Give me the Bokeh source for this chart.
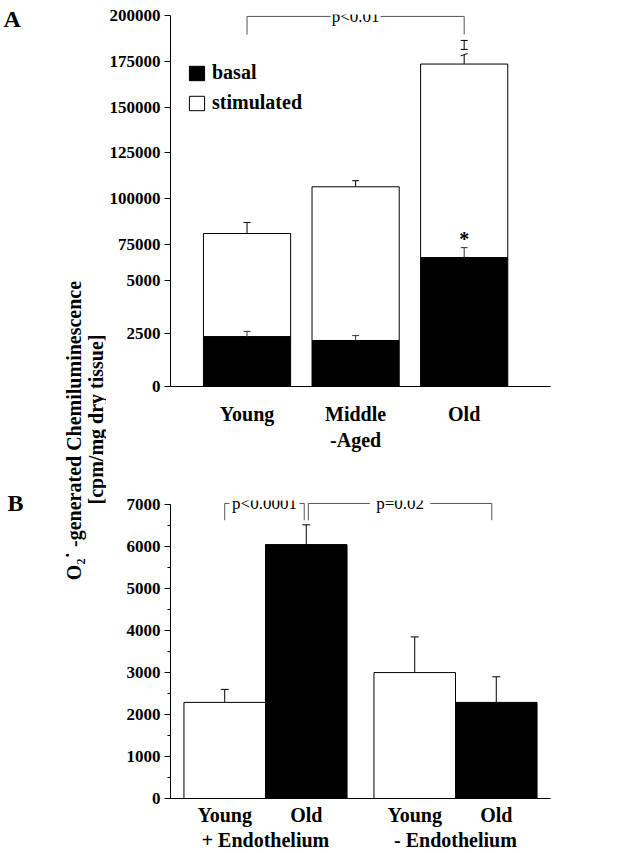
import math
from bokeh.plotting import figure
from bokeh.models import (Range1d, FixedTicker, SingleIntervalTicker, LinearAxis,
                          CustomJSTickFormatter, Whisker, TeeHead, ColumnDataSource,
                          Legend, LegendItem, Label)
from bokeh.layouts import row, column
from bokeh.embed import file_html
from bokeh.resources import INLINE

# ---------------- data: panel A (broken axis, stacked) ----------------
age_groups = ["Young", "Middle\n-Aged", "Old"]
basal = [2350, 2170, 6080]
basal_err = [2600, 2400, 6550]
total = [81000, 106500, 173500]
total_err = [87000, 109800, 186400]
a_ticks = [0, 2500, 5000, 75000, 100000, 125000, 150000, 175000, 200000]
a_tick_labels = ["0", "2500", "5000", "75000", "100000", "125000", "150000", "175000", "200000"]

# ---------------- data: panel B ----------------
endo_groups = ["+ Endothelium", "+ Endothelium", "- Endothelium", "- Endothelium"]
b_ages = ["Young", "Old", "Young", "Old"]
b_values = [2290, 6050, 3000, 2290]
b_err = [2600, 6520, 3850, 2900]

SERIF = "Liberation Serif"

# broken axis: lower segment (0-5000) and upper segment (75000-200000)
LOW_SCALE = 53.0 / 2500
BREAK_VALUE = 75000
BREAK_POS = 142.0
HIGH_SCALE = 45.8 / 25000


def ax(v):
    if v < 20000:
        return v * LOW_SCALE
    return BREAK_POS + (v - BREAK_VALUE) * HIGH_SCALE


def style_common(p):
    p.grid.visible = False
    p.outline_line_color = None
    p.background_fill_color = "white"
    p.border_fill_color = "white"


def style_axis(axis, size):
    axis.axis_line_color = "black"
    axis.axis_line_width = 1
    axis.major_label_text_font = SERIF
    axis.major_label_text_font_style = "bold"
    axis.major_label_text_color = "black"
    axis.major_label_text_font_size = size


def bracket(p, xa, xb, y_top, y_drop, text, gap_half):
    """Significance bracket with a gap for the centred text."""
    xm = (xa + xb) / 2
    p.segment(x0=[xa, xa, xb, xm + gap_half], y0=[y_top, y_top, y_top, y_top],
              x1=[xm - gap_half, xa, xb, xb], y1=[y_top, y_drop, y_drop, y_top],
              line_color="#555555", line_width=1)
    p.add_layout(Label(x=xm, y=y_top, text=text, text_align="center", text_baseline="middle",
                       text_font=SERIF, text_font_size="17px", text_color="black"))


# ---------------- panel A ----------------
pa = figure(width=528, height=455, x_range=Range1d(-0.705, 2.795), y_range=Range1d(0, 372),
            output_backend="svg", toolbar_location=None,
            min_border_left=60, min_border_right=6, min_border_top=14, min_border_bottom=69)
style_common(pa)

xs = list(range(len(age_groups)))
BW = 0.803
src_a = ColumnDataSource(dict(
    x=xs,
    b=[ax(v) for v in basal],
    be=[ax(v) for v in basal_err],
    t=[ax(v) for v in total],
    te=[ax(v) for v in total_err],
    cl=[x - 0.032 for x in xs],
    cr=[x + 0.032 for x in xs],
))
r_stim = pa.vbar(x="x", bottom="b", top="t", width=BW, fill_color="white",
                 line_color="black", line_width=1, source=src_a)
r_basal = pa.vbar(x="x", bottom=0, top="b", width=BW, fill_color="black",
                  line_color="black", line_width=1, source=src_a)
# error bars (up only)
pa.segment(x0="x", y0="t", x1="x", y1="te", line_color="black", line_width=1, source=src_a)
pa.segment(x0="cl", y0="te", x1="cr", y1="te", line_color="black", line_width=1, source=src_a)
pa.segment(x0="x", y0="b", x1="x", y1="be", line_color="#333333", line_width=1, source=src_a)
pa.segment(x0="cl", y0="be", x1="cr", y1="be", line_color="#333333", line_width=1, source=src_a)

# break mark on the Old error bar
io = len(xs) - 1
te_old = ax(total_err[io])
pa.quad(left=[io - 0.04], right=[io + 0.04], bottom=[te_old - 14.5], top=[te_old - 9.5],
        fill_color="white", line_color=None, level="overlay")
pa.segment(x0=[io - 0.032], y0=[te_old - 9], x1=[io + 0.032], y1=[te_old - 9],
           line_color="black", line_width=1, level="overlay")
pa.segment(x0=[io - 0.032], y0=[te_old - 15.5], x1=[io + 0.032], y1=[te_old - 13],
           line_color="black", line_width=1, level="overlay")

# significance bracket (Young vs Old)
bracket(pa, 0, 2, ax(199500), ax(189600), "p<0.01", 0.23)
pa.add_layout(Label(x=io, y=ax(basal_err[io]) + 9, text="*", text_align="center",
                    text_baseline="middle", text_font=SERIF, text_font_size="20px",
                    text_font_style="bold", text_color="black"))

NEAREST = """
let best = 0;
for (let i = 0; i < pos.length; i++) {
  if (Math.abs(pos[i] - tick) < Math.abs(pos[best] - tick)) best = i;
}
return lab[best];
"""

pa.yaxis.ticker = FixedTicker(ticks=[ax(v) for v in a_ticks])
pa.yaxis.formatter = CustomJSTickFormatter(
    args=dict(pos=[ax(v) for v in a_ticks], lab=a_tick_labels), code=NEAREST)
pa.yaxis.bounds = (0, ax(200000))
pa.yaxis.minor_tick_line_color = None
pa.yaxis.major_tick_line_color = "black"
pa.yaxis.major_tick_out = 6
pa.yaxis.major_tick_in = 0
pa.yaxis.major_label_standoff = 4
style_axis(pa.yaxis, "17px")

pa.xaxis.ticker = FixedTicker(ticks=xs)
pa.xaxis.formatter = CustomJSTickFormatter(args=dict(lab=age_groups),
                                           code="return lab[Math.round(tick)];")
pa.xaxis.major_tick_line_color = None
pa.xaxis.minor_tick_line_color = None
pa.xaxis.major_tick_out = 0
pa.xaxis.major_label_standoff = 16
style_axis(pa.xaxis, "20px")

legend = Legend(items=[LegendItem(label="basal", renderers=[r_basal]),
                       LegendItem(label="stimulated", renderers=[r_stim])],
                location=(17, 272), orientation="vertical")
legend.background_fill_alpha = 0
legend.border_line_color = None
legend.label_text_font = SERIF
legend.label_text_font_size = "20px"
legend.label_text_font_style = "bold"
legend.label_text_color = "black"
legend.glyph_width = 19
legend.glyph_height = 18
legend.spacing = 7
legend.padding = 0
legend.margin = 0
legend.label_standoff = 6
pa.add_layout(legend)

# ---------------- panel B ----------------
GP = 0.33
group_order = sorted(set(endo_groups), key=endo_groups.index)
bx = [i + group_order.index(g) * GP for i, g in enumerate(endo_groups)]
group_centers = [sum(x for x, g in zip(bx, endo_groups) if g == grp) /
                 endo_groups.count(grp) for grp in group_order]

pb = figure(width=528, height=398, x_range=Range1d(bx[0] - 0.665, bx[-1] + 0.665),
            y_range=Range1d(0, 7100),
            output_backend="svg", toolbar_location=None,
            min_border_left=62, min_border_right=84, min_border_top=45, min_border_bottom=53)
style_common(pb)

b_colors = ["white" if a == "Young" else "black" for a in b_ages]
src_b = ColumnDataSource(dict(x=bx, top=b_values, err=b_err, color=b_colors))
pb.vbar(x="x", top="top", width=1.0, fill_color="color", line_color="black",
        line_width=1, source=src_b)
pb.add_layout(Whisker(source=src_b, base="x", lower="top", upper="err", dimension="height",
                      line_color="black", line_width=1,
                      upper_head=TeeHead(size=8, line_color="black", line_width=1),
                      lower_head=None))

# significance brackets
bracket(pb, bx[0], bx[1] - 0.025, 7030, 6630, "p<0.0001", 0.43)
bracket(pb, bx[1] + 0.025, bx[3] - 0.055, 7030, 6630, "p=0.02", 0.37)

pb.yaxis.ticker = SingleIntervalTicker(interval=1000, num_minor_ticks=2)
pb.yaxis.bounds = (0, 7000)
pb.yaxis.major_tick_out = 6
pb.yaxis.major_tick_in = 0
pb.yaxis.minor_tick_out = 3
pb.yaxis.minor_tick_in = 0
pb.yaxis.major_label_standoff = 4
pb.yaxis.major_tick_line_color = "black"
pb.yaxis.minor_tick_line_color = "black"
style_axis(pb.yaxis, "17px")

pb.xaxis.ticker = FixedTicker(ticks=bx)
pb.xaxis.formatter = CustomJSTickFormatter(args=dict(pos=bx, lab=b_ages), code=NEAREST)
pb.xaxis.major_tick_line_color = None
pb.xaxis.minor_tick_line_color = None
pb.xaxis.major_tick_out = 0
pb.xaxis.major_label_standoff = 5
style_axis(pb.xaxis, "20px")

grp_axis = LinearAxis(ticker=FixedTicker(ticks=group_centers),
                      formatter=CustomJSTickFormatter(args=dict(pos=group_centers, lab=group_order),
                                                      code=NEAREST))
style_axis(grp_axis, "20px")
grp_axis.axis_line_color = None
grp_axis.major_tick_line_color = None
grp_axis.minor_tick_line_color = None
grp_axis.major_tick_out = 0
grp_axis.major_tick_in = 0
grp_axis.minor_tick_out = 0
grp_axis.major_label_standoff = 0
pb.add_layout(grp_axis, "below")

# ---------------- left strip: panel letters + shared y label ----------------
H = 853
strip = figure(width=106, height=H, x_range=Range1d(0, 106), y_range=Range1d(0, H),
               output_backend="svg", toolbar_location=None, min_border=0,
               x_axis_location=None, y_axis_location=None)
style_common(strip)
strip.add_layout(Label(x=3, y=H - 18, text="A", text_align="left", text_baseline="middle",
                       text_font=SERIF, text_font_size="24px", text_font_style="bold",
                       text_color="black"))
strip.add_layout(Label(x=7, y=H - 502, text="B", text_align="left", text_baseline="middle",
                       text_font=SERIF, text_font_size="24px", text_font_style="bold",
                       text_color="black"))
strip.add_layout(Label(x=73, y=H - 430, text="O\u2082\u02d9 -generated Chemiluminescence",
                       angle=math.pi / 2, text_align="center", text_baseline="middle",
                       text_font=SERIF, text_font_size="20px", text_font_style="bold",
                       text_color="black"))
strip.add_layout(Label(x=95, y=H - 419, text="[cpm/mg dry tissue]",
                       angle=math.pi / 2, text_align="center", text_baseline="middle",
                       text_font=SERIF, text_font_size="20px", text_font_style="bold",
                       text_color="black"))

layout = row(strip, column(pa, pb))
open("out.html", "w").write(file_html(layout, INLINE))
